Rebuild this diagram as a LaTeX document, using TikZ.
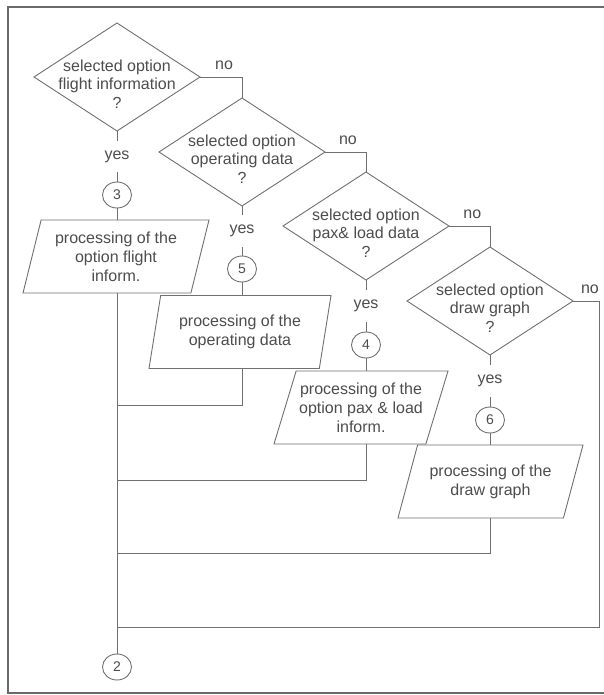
\documentclass[tikz,border=0pt]{standalone}
\usepackage{fontspec}
\setmainfont{Liberation Sans}
\usetikzlibrary{shapes.geometric}
\definecolor{ink}{HTML}{4D4D4D}
\definecolor{wire}{HTML}{707070}
\definecolor{framegray}{HTML}{6A6A6A}
\begin{document}
\begin{tikzpicture}[x=1pt, y=-1pt,
  every node/.append style={outer sep=0pt},
  line/.style={draw=wire, line width=0.9pt},
  txt/.style={text=ink, font=\fontsize{16}{18.5}\selectfont, align=center, inner sep=0pt},
  decision/.style={diamond, draw=wire, line width=0.9pt, minimum width=166pt, minimum height=108pt, inner sep=0pt},
  io/.style={trapezium, draw=wire, line width=0.9pt, trapezium stretches body, minimum height=73pt,
    inner sep=0pt, text=ink, font=\fontsize{16}{19}\selectfont, align=center},
  conn/.style={ellipse, draw=wire, line width=0.9pt, minimum width=29pt, minimum height=26pt,
    inner sep=0pt, text=ink, font=\fontsize{14}{16}\selectfont},
  answer/.style={text=ink, font=\fontsize{16}{18}\selectfont, inner sep=0pt},
  gap/.style={answer, fill=white, inner xsep=3pt, inner ysep=10pt},
]
\useasboundingbox[fill=white] (0,0) rectangle (604,695);
% page frame
\draw[framegray, line width=1.2pt] (604,7) -- (8,7) -- (8,693) -- (604,693);

% decisions
\node[decision] (d1) at (117,77) {};
\node[decision] (d2) at (242,152) {};
\node[decision] (d3) at (366,226) {};
\node[decision] (d4) at (490,301) {};
\node[txt] (d1t) at ([yshift=-7pt]d1.center) {selected option\\flight information\\?};
\node[txt] (d2t) at ([yshift=-7pt]d2.center) {selected option\\operating data\\?};
\node[txt] (d3t) at ([yshift=-7pt]d3.center) {selected option\\pax\& load data\\?};
\node[txt] (d4t) at ([yshift=-7pt]d4.center) {selected option\\draw graph\\?};

% connector circles
\node[conn] (c3) at (117,195) {3};
\node[conn] (c5) at (242,269) {5};
\node[conn] (c4) at (366,345) {4};
\node[conn] (c6) at (490,420) {6};
\node[conn] (c2) at (117,667) {2};

% processing steps
\node[io, trapezium left angle=70, trapezium right angle=110, minimum width=186pt] (p1) at (116,256.5)
  {processing of the\\option flight\\inform.};
\node[io, trapezium left angle=71, trapezium right angle=109, minimum width=182pt] (p2) at (240,332)
  {processing of the\\operating data};
\node[io, trapezium left angle=66, trapezium right angle=114, minimum width=174pt] (p3) at (361,407.5)
  {processing of the\\option pax \& load\\inform.};
\node[io, trapezium left angle=60, trapezium right angle=120, minimum width=185pt] (p4) at (490.5,481.5)
  {processing of the\\draw graph};

% junctions on the collecting line
\coordinate (j1) at (117,405);
\coordinate (j2) at (117,480);
\coordinate (j3) at (117,553);
\coordinate (j4) at (117,627);
\coordinate (rx) at (599,301);

% "no" branches
\draw[line] (d1.east) -| node[answer, pos=0.286, above=7pt] {no} (d2.north);
\draw[line] (d2.east) -| node[answer, pos=0.28, above=7pt] {no} (d3.north);
\draw[line] (d3.east) -| node[answer, pos=0.285, above=7pt] {no} (d4.north);
\draw[line] (d4.east) -- node[answer, pos=0.65, above=7pt] {no} (rx) |- (j4);

% "yes" branches
\draw[line] (d1.south) -- node[gap] {yes} (c3.north);
\draw[line] (d2.south) -- node[gap] {yes} (c5.north);
\draw[line] (d3.south) -- node[gap] {yes} (c4.north);
\draw[line] (d4.south) -- node[gap] {yes} (c6.north);

\draw[line] (c3.south) -- (c3.south |- p1.north);
\draw[line] (c5.south) -- (c5.south |- p2.north);
\draw[line] (c4.south) -- (c4.south |- p3.north);
\draw[line] (c6.south) -- (c6.south |- p4.north);

% collecting line to connector 2
\draw[line] (c3.south |- p1.south) -- (c2.north);
\draw[line] (c5.south |- p2.south) |- (j1);
\draw[line] (c4.south |- p3.south) |- (j2);
\draw[line] (c6.south |- p4.south) |- (j3);
\end{tikzpicture}
\end{document}
